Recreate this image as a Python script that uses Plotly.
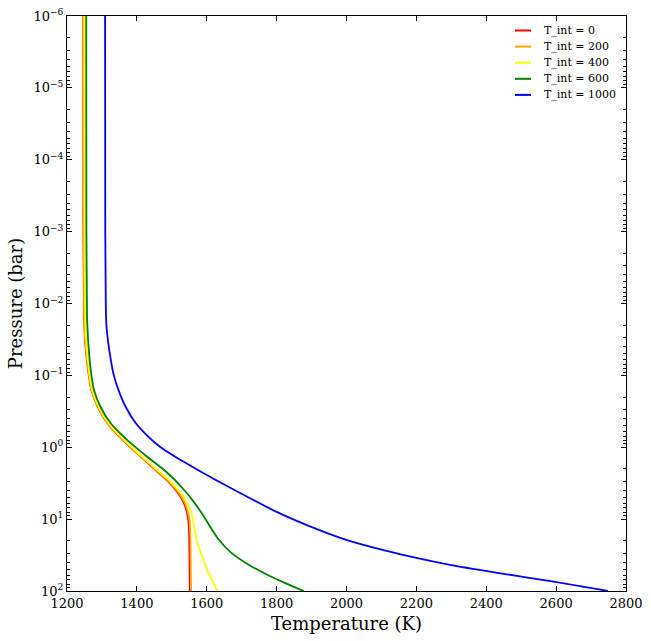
import plotly.graph_objects as go

# ---- data (pressure in bar, temperature in K) ----
labels = ["T_int = 0", "T_int = 200", "T_int = 400", "T_int = 600", "T_int = 1000"]
colors = ["#ff0000", "#ffa500", "#ffff00", "#008000", "#0000ff"]

P_red = [1e-6, 1e-3, 1e-2, 0.0316, 0.1, 0.158, 0.269, 0.457, 0.708, 1.29, 2.19, 3.02, 4.17, 5.75, 7.59, 9.77, 13.5, 31.6, 100]
T_red = [1246.5, 1247, 1248.5, 1251.5, 1262.5, 1269.5, 1287.5, 1314.5, 1349, 1406, 1459, 1491, 1515, 1533, 1542, 1546.5, 1549, 1550.5, 1551.5]

P_orange = [1e-6, 1e-3, 1e-2, 0.0316, 0.1, 0.158, 0.269, 0.457, 0.708, 1.29, 2.19, 3.02, 4.17, 5.75, 7.59, 9.77, 13.5, 31.6, 100]
T_orange = [1247, 1247.5, 1249, 1252, 1263, 1270, 1288, 1315, 1350, 1407, 1461, 1493, 1518, 1536, 1545, 1550, 1552.5, 1554, 1555]

P_yellow = [1e-6, 1e-3, 1e-2, 0.0316, 0.1, 0.158, 0.269, 0.457, 0.708, 1.29, 2.19, 3.02, 4.17, 5.75, 7.59, 9.77, 15.1, 22.9, 35.5, 55.0, 83.2, 100]
T_yellow = [1250, 1250.5, 1252, 1254.5, 1265, 1272, 1290, 1318, 1353, 1410, 1464, 1497, 1523, 1543, 1554, 1560, 1566, 1575, 1589, 1604, 1623, 1631]

P_green = [1e-6, 1e-3, 1e-2, 0.0191, 0.055, 0.1, 0.158, 0.269, 0.457, 0.759, 1.29, 2.19, 3.72, 5.75, 8.91, 13.5, 18.6, 28.8, 43.7, 60.3, 75.9, 100]
T_green = [1255, 1255.5, 1257, 1258, 1264, 1270, 1277, 1295, 1324, 1368, 1424, 1484, 1531, 1563, 1590, 1613, 1632, 1668, 1722, 1776, 1820, 1878]

P_blue = [1e-6, 1e-3, 1e-2, 0.0191, 0.0324, 0.055, 0.1, 0.158, 0.269, 0.457, 0.676, 1.0, 1.58, 2.72, 4.65, 7.94, 12.3, 19.1, 27.5, 33.9, 43.7, 51.3, 61.7, 72.4, 100]
T_blue = [1309, 1309.5, 1311, 1312.6, 1317, 1324, 1334, 1347, 1367, 1396, 1428, 1468, 1533, 1618, 1708, 1800, 1890, 1995, 2112, 2190, 2300, 2385, 2488, 2580, 2748]

x_ticks = [1200, 1400, 1600, 1800, 2000, 2200, 2400, 2600, 2800]
y_ticks = [1e-6, 1e-5, 1e-4, 1e-3, 1e-2, 1e-1, 1e0, 1e1, 1e2]
y_ticktext = ["10<sup>\u22126</sup>", "10<sup>\u22125</sup>", "10<sup>\u22124</sup>", "10<sup>\u22123</sup>",
              "10<sup>\u22122</sup>", "10<sup>\u22121</sup>", "10<sup>0</sup>", "10<sup>1</sup>", "10<sup>2</sup>"]
y_minor = [m * 10.0 ** e for e in range(-6, 2) for m in range(2, 10)]

series = [(P_red, T_red), (P_orange, T_orange), (P_yellow, T_yellow), (P_green, T_green), (P_blue, T_blue)]

font = "DejaVu Serif, Liberation Serif, serif"

fig = go.Figure()
for (P, T), name, c in zip(series, labels, colors):
    fig.add_trace(go.Scatter(x=T, y=P, mode="lines", name=name, showlegend=False,
                             line=dict(color=c, width=1.8, shape="spline", smoothing=1.0)))

# legend drawn in the upper-right corner (matplotlib style, no frame)
L, R, TOP, BOT = 67, 626, 16, 591
W, H = R - L, BOT - TOP
for i, (name, c) in enumerate(zip(labels, colors)):
    py = 30.5 + 16.1 * i
    yp = (BOT - py) / H
    fig.add_shape(type="line", xref="paper", yref="paper",
                  x0=(515 - L) / W, x1=(531 - L) / W, y0=yp, y1=yp,
                  line=dict(color=c, width=2))
    fig.add_annotation(xref="paper", yref="paper", x=(542 - L) / W, y=yp,
                       xanchor="left", yanchor="middle", showarrow=False,
                       text=name, font=dict(size=11, family=font, color="black"))

fig.update_layout(
    width=651, height=641,
    margin=dict(l=L, r=651 - R, t=TOP, b=641 - BOT, autoexpand=False),
    paper_bgcolor="white", plot_bgcolor="white",
    font=dict(family=font, color="black", size=13),
    showlegend=False,
)
fig.update_xaxes(
    range=[1200, 2800], tickvals=x_ticks, ticks="inside", ticklen=5, tickcolor="black",
    showline=True, linecolor="black", linewidth=1, mirror="allticks", showgrid=False, zeroline=False,
    automargin=False,
    title=dict(text="Temperature (K)", font=dict(size=18, family=font), standoff=7),
    tickfont=dict(size=13, family=font),
)
fig.update_yaxes(
    type="log", range=[2, -6], tickvals=y_ticks, ticktext=y_ticktext,
    ticks="inside", ticklen=5, tickcolor="black",
    minor=dict(tickvals=y_minor, ticks="inside", ticklen=3, tickcolor="black", showgrid=False),
    showline=True, linecolor="black", linewidth=1, mirror="allticks", showgrid=False, zeroline=False,
    automargin=False,
    title=dict(text="Pressure (bar)", font=dict(size=18, family=font), standoff=6),
    tickfont=dict(size=13, family=font),
)

fig.write_html("out.html")
